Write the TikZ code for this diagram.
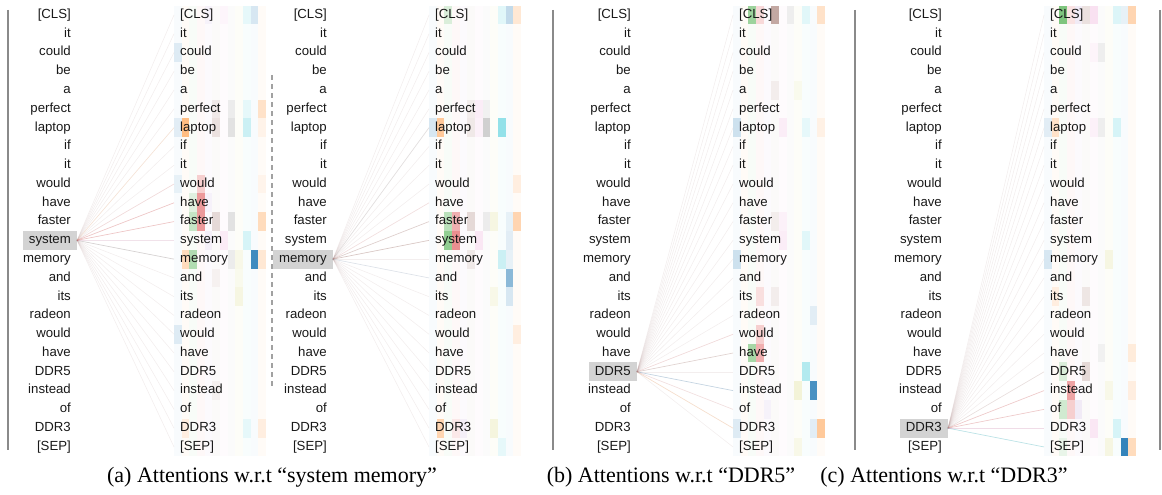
\documentclass[tikz,border=0pt]{standalone}
\usepackage{fontspec}
\setmainfont{Liberation Serif}
\newfontfamily\tokfont{Liberation Sans}
\definecolor{h1}{HTML}{1F77B4}
\definecolor{h2}{HTML}{FF7F0E}
\definecolor{h3}{HTML}{2CA02C}
\definecolor{h4}{HTML}{D62728}
\definecolor{h5}{HTML}{9467BD}
\definecolor{h6}{HTML}{8C564B}
\definecolor{h7}{HTML}{E377C2}
\definecolor{h8}{HTML}{7F7F7F}
\definecolor{h9}{HTML}{BCBD22}
\definecolor{h10}{HTML}{17BECF}
\definecolor{h11}{HTML}{1F77B4}
\definecolor{h12}{HTML}{FF7F0E}
\definecolor{hlgray}{HTML}{D3D3D3}
\definecolor{bargray}{HTML}{8A8A8A}

\newcommand\tokpanel[4]{%
  \foreach \t [count=\i from 0] in {{[CLS]},it,could,be,a,perfect,laptop,if,it,would,have,faster,system,memory,and,its,radeon,would,have,DDR5,instead,of,DDR3,{[SEP]}}{
    \pgfmathsetmacro\yy{15+18.78*\i}
    \ifnum\i=#4\relax \def\fc{hlgray}\else\def\fc{none}\fi
    \node[tok, anchor=east, fill=\fc] (#1L\i) at (#2,\yy) {\t};
    \node[tok, anchor=west] (#1R\i) at (#3,\yy) {\t};
  }}
\newcommand\heatbase[1]{%
  \foreach \r in {0,...,23}{
    \foreach \c in {1,...,12}{
      \pgfmathsetmacro\yy{15+18.78*\r}
      \pgfmathsetmacro\xx{#1+7.67*(\c-1)}
      \fill[fill=h\c, opacity=0.03] (\xx,\yy-9.39) rectangle ++(7.67,18.78);
    }}}
\newcommand\heatcells[2]{%
  \foreach \r/\c/\o in {#2}{
    \pgfmathsetmacro\yy{15+18.78*\r}
    \pgfmathsetmacro\xx{#1+7.67*(\c-1)}
    \fill[fill=h\c, opacity=\o] (\xx,\yy-9.39) rectangle ++(7.67,18.78);
  }}
\newcommand\attlines[3]{%
  \foreach \i in {0,...,23}{\draw[attline] (#1L#2.east) -- (#1R\i.west);}
  \foreach \r/\cl/\o in {#3}{\draw[line width=0.7pt, draw=\cl, opacity=\o] (#1L#2.east) -- (#1R\r.west);}
}

\begin{document}
\begin{tikzpicture}[x=1pt,y=-1pt,
  tok/.style={font=\tokfont\fontsize{13.2}{15}\selectfont, text=black!90,
    inner xsep=6pt, inner ysep=0pt, minimum height=18.78pt,
    text height=9.5pt, text depth=2.8pt},
  attline/.style={line width=0.6pt, draw=h4!25!gray!70, opacity=0.16},
  sepbar/.style={draw=bargray, line width=1.6pt},
  capstyle/.style={font=\fontsize{22}{26}\selectfont, inner sep=0pt}]
\useasboundingbox (0,0) rectangle (1162,495);

% heatmaps
\heatbase{174}
\heatbase{429}
\heatbase{733}
\heatbase{1044}
\heatcells{174}{0/11/0.15, 0/10/0.08, 0/5/0.05, 0/7/0.04, 2/1/0.12,
  5/6/0.1, 5/8/0.12, 5/10/0.08, 5/12/0.2,
  6/1/0.1, 6/2/0.5, 6/6/0.15, 6/8/0.2, 6/10/0.2, 6/12/0.06,
  9/1/0.08, 9/4/0.2, 9/12/0.05,
  10/3/0.12, 10/4/0.45, 10/5/0.05,
  11/3/0.25, 11/4/0.45, 11/6/0.2, 11/8/0.2, 11/12/0.25,
  12/7/0.12, 12/10/0.15, 12/5/0.08,
  13/2/0.25, 13/3/0.35, 13/8/0.12, 13/9/0.08, 13/11/0.85, 13/12/0.15,
  14/6/0.05, 14/9/0.05, 15/9/0.1, 17/1/0.12, 20/6/0.06,
  22/2/0.1, 22/10/0.08, 22/12/0.1}
\heatcells{429}{0/3/0.15, 0/10/0.1, 0/11/0.25, 0/12/0.15,
  5/6/0.08, 5/7/0.1, 5/8/0.08,
  6/1/0.15, 6/2/0.4, 6/6/0.1, 6/7/0.08, 6/8/0.35, 6/10/0.45,
  9/12/0.1,
  11/3/0.3, 11/4/0.35, 11/6/0.2, 11/8/0.12, 11/9/0.1, 11/11/0.08, 11/12/0.3,
  12/3/0.5, 12/4/0.5, 12/7/0.15, 12/11/0.1,
  13/6/0.1, 13/10/0.2, 13/11/0.08,
  14/11/0.5, 15/9/0.08, 15/11/0.15, 17/12/0.1,
  22/2/0.3, 22/4/0.08, 22/5/0.08, 22/9/0.12, 23/10/0.08}
\heatcells{733}{0/3/0.45, 0/4/0.15, 0/6/0.5, 0/8/0.1, 0/10/0.1, 0/12/0.2,
  4/6/0.08, 4/9/0.05,
  6/1/0.2, 6/7/0.1, 6/10/0.08, 6/12/0.08,
  11/7/0.08, 11/6/0.08, 12/7/0.1, 12/10/0.1, 13/1/0.2,
  15/4/0.12, 15/6/0.08, 16/11/0.1, 17/4/0.2,
  18/3/0.4, 18/4/0.35, 19/10/0.3,
  20/9/0.15, 20/11/0.8, 21/5/0.05,
  22/1/0.12, 22/11/0.1, 22/12/0.4, 23/9/0.08}
\heatcells{1044}{0/3/0.6, 0/4/0.1, 0/5/0.1, 0/6/0.15, 0/7/0.2, 0/10/0.12, 0/11/0.08, 0/12/0.3,
  2/7/0.05, 2/8/0.1,
  6/1/0.1, 6/2/0.2, 6/7/0.08, 6/8/0.1, 6/10/0.15,
  13/1/0.15, 13/9/0.1, 15/2/0.1, 15/6/0.12,
  18/8/0.08, 18/12/0.12, 19/3/0.15, 19/6/0.2,
  20/4/0.4, 20/9/0.08, 20/12/0.1,
  21/3/0.2, 21/4/0.2, 21/5/0.1,
  22/7/0.15, 22/10/0.15,
  23/3/0.08, 23/9/0.1, 23/11/0.9, 23/12/0.25}

% tokens
\tokpanel{a}{77}{174}{12}
\tokpanel{b}{333}{429}{13}
\tokpanel{c}{637}{733}{19}
\tokpanel{d}{948}{1044}{22}

% attention connectors
\attlines{a}{12}{13/h8/0.25, 11/h4/0.2, 10/h4/0.2, 9/h4/0.1, 6/h2/0.1, 12/h7/0.1}
\attlines{b}{13}{12/h6/0.25, 11/h6/0.2, 6/h8/0.15, 14/h11/0.1, 10/h4/0.08}
\attlines{c}{19}{20/h1/0.22, 18/h6/0.18, 22/h2/0.15, 17/h4/0.1, 21/h4/0.08}
\attlines{d}{22}{23/h10/0.25, 21/h4/0.18, 20/h4/0.18, 19/h6/0.1, 22/h7/0.15}

% separators
\draw[sepbar] (8,10) -- (8,450);
\draw[sepbar] (553,10) -- (553,450);
\draw[sepbar] (855,10) -- (855,450);
\draw[sepbar] (1160,10) -- (1160,450);
\draw[draw=bargray!80, line width=1.2pt, dash pattern=on 5pt off 4pt] (272,75) -- (272,387);

% captions
\node[capstyle] (capa) at (272,477) {(a) Attentions w.r.t “system memory”};
\node[capstyle] (capb) at (671,477) {(b) Attentions w.r.t “DDR5”};
\node[capstyle] (capc) at (944,477) {(c) Attentions w.r.t “DDR3”};
\end{tikzpicture}
\end{document}
